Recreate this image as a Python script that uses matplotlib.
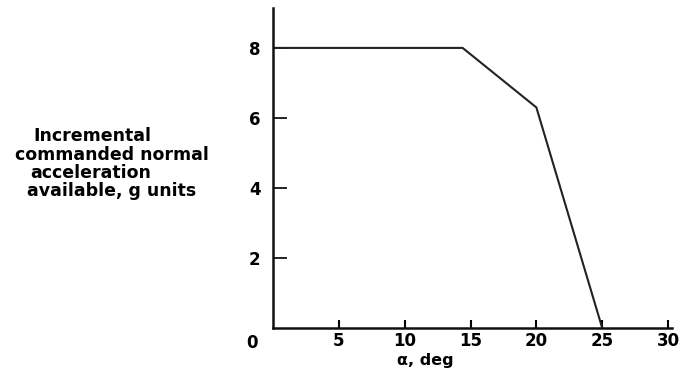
import matplotlib.pyplot as plt

# data
alpha = [0, 14.4, 20, 25]
accel = [8, 8, 6.3, 0]
x_ticks = [5, 10, 15, 20, 25, 30]
y_ticks = [2, 4, 6, 8]
ylabel_lines = ['Incremental', 'commanded normal', 'acceleration', 'available, g units']

plt.rcParams['font.family'] = 'DejaVu Sans'
plt.rcParams['font.weight'] = 'bold'

fig = plt.figure(figsize=(6.86, 3.69), dpi=100)
ax = fig.add_axes([273 / 686, 41 / 369, 399 / 686, 320 / 369])

ax.plot(alpha, accel, color='#222222', lw=1.5)

ax.set_xlim(0, 30.3)
ax.set_ylim(0, 9.14)
ax.spines['top'].set_visible(False)
ax.spines['right'].set_visible(False)
for s in ('left', 'bottom'):
    ax.spines[s].set_linewidth(1.8)
    ax.spines[s].set_color('#111111')

ax.set_xticks(x_ticks)
ax.set_yticks(y_ticks)
ax.tick_params(axis='x', direction='in', length=6, width=1.5, pad=3, labelsize=12)
ax.tick_params(axis='y', direction='in', length=10, width=1.2, pad=9, labelsize=12)

# shared origin label
ax.annotate('0', xy=(0, 0), xytext=(-15, -4), textcoords='offset points',
            ha='center', va='top', fontsize=12)

ax.set_xlabel('α, deg', fontsize=11.5, fontweight='bold', va='center')
ax.xaxis.set_label_coords((425 - 273) / 399, -32 / 320)

# multi-line y label placed left of the axis
ys = [136, 155, 173, 191]
xs = [33, 15, 30, 27]
for txt, x, y in zip(ylabel_lines, xs, ys):
    fig.text(x / 686, 1 - y / 369, txt, ha='left', va='center', fontsize=12.5)

fig.savefig('out.png', dpi=100)
